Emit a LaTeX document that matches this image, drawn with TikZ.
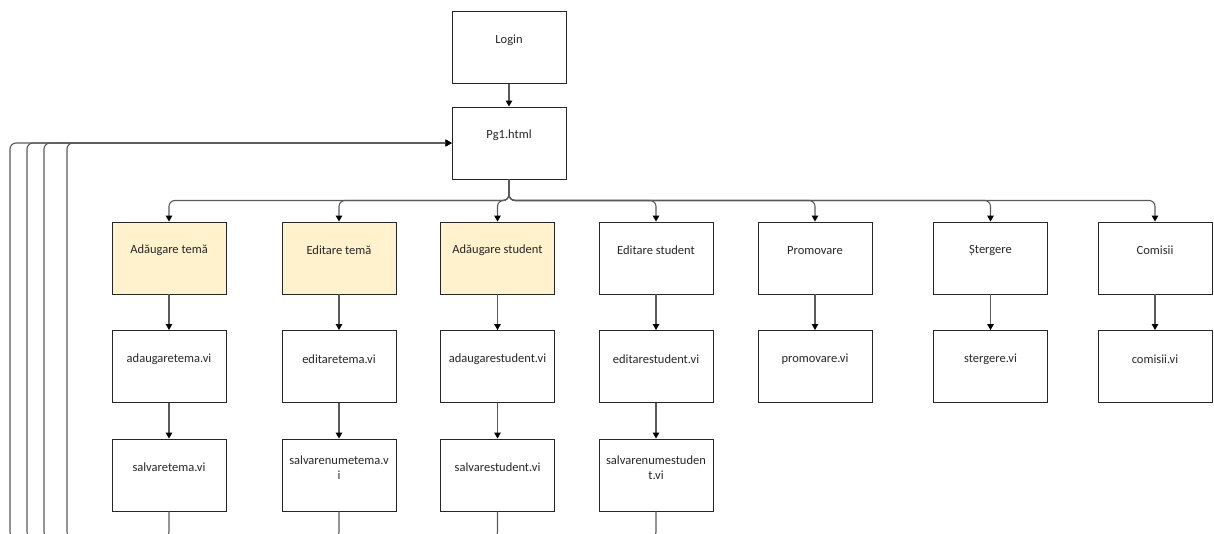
\documentclass[tikz,border=0pt]{standalone}
\usepackage{fontspec}
\setmainfont{Carlito}
\usetikzlibrary{arrows.meta}
\definecolor{notefill}{HTML}{FFF2CC}
\definecolor{linegray}{HTML}{5A5A5A}
\tikzstyle{page} = [rectangle, draw=black!85, line width=0.9pt, minimum width=114pt, minimum height=72pt, inner sep=0pt]
\tikzstyle{note} = [page, fill=notefill]
\tikzstyle{caption} = [align=center, inner sep=0pt, text=black!85, font=\fontsize{12.5}{14.5}\selectfont]
\tikzstyle{flow} = [draw=linegray, line width=1.1pt, -{Triangle[width=6.5pt,length=6pt,color=black]}]

\begin{document}
\begin{tikzpicture}[x=1pt, y=-1pt]
    \useasboundingbox (0,0) rectangle (1214,533);

    % start
    \node(login)[page] at (509,47.5) {};
    \node(logintxt)[caption] at ([yshift=-29pt]login.north) {Login};
    \node(pg1)[page] at (509,143) {};
    \node(pg1txt)[caption] at ([yshift=-29pt]pg1.north) {Pg1.html};
    \draw[flow] (login) -- (pg1);

    % first row
    \node(adt)[note] at (169,258) {};
    \node(adttxt)[caption] at ([yshift=-29pt]adt.north) {Adăugare temă};
    \node(edt)[note] at (339,258) {};
    \node(edttxt)[caption] at ([yshift=-29pt]edt.north) {Editare temă};
    \node(ads)[note] at (497.5,258) {};
    \node(adstxt)[caption] at ([yshift=-29pt]ads.north) {Adăugare student};
    \node(eds)[page] at (656,258) {};
    \node(edstxt)[caption] at ([yshift=-29pt]eds.north) {Editare student};
    \node(prom)[page] at (815,258) {};
    \node(promtxt)[caption] at ([yshift=-29pt]prom.north) {Promovare};
    \node(sterg)[page] at (990.5,258) {};
    \node(stergtxt)[caption] at ([yshift=-29pt]sterg.north) {Ștergere};
    \node(com)[page] at (1155,258) {};
    \node(comtxt)[caption] at ([yshift=-29pt]com.north) {Comisii};

    \foreach \child in {adt,edt,ads,eds,prom,sterg,com}
        \draw[flow, rounded corners=6pt] (pg1.south) -- ++(0,21) -| (\child.north);

    % .vi pages
    \node(adtvi)[page] at (169,366.5) {};
    \node(adtvitxt)[caption] at ([yshift=-29pt]adtvi.north) {adaugaretema.vi};
    \node(edtvi)[page] at (339,366.5) {};
    \node(edtvitxt)[caption] at ([yshift=-29pt]edtvi.north) {editaretema.vi};
    \node(adsvi)[page] at (497.5,366.5) {};
    \node(adsvitxt)[caption] at ([yshift=-29pt]adsvi.north) {adaugarestudent.vi};
    \node(edsvi)[page] at (656,366.5) {};
    \node(edsvitxt)[caption] at ([yshift=-29pt]edsvi.north) {editarestudent.vi};
    \node(promvi)[page] at (815,366.5) {};
    \node(promvitxt)[caption] at ([yshift=-29pt]promvi.north) {promovare.vi};
    \node(stergvi)[page] at (990.5,366.5) {};
    \node(stergvitxt)[caption] at ([yshift=-29pt]stergvi.north) {stergere.vi};
    \node(comvi)[page] at (1155,366.5) {};
    \node(comvitxt)[caption] at ([yshift=-29pt]comvi.north) {comisii.vi};

    \foreach \name in {adt,edt,ads,eds,prom,sterg,com}
        \draw[flow] (\name) -- (\name vi);

    % save pages
    \node(svt)[page] at (169,475) {};
    \node(svttxt)[caption] at ([yshift=-29pt]svt.north) {salvaretema.vi};
    \node(svnt)[page] at (339,475) {};
    \node(svnttxt)[caption] at ([yshift=-29pt]svnt.north) {salvarenumetema.v\\i};
    \node(svs)[page] at (497.5,475) {};
    \node(svstxt)[caption] at ([yshift=-29pt]svs.north) {salvarestudent.vi};
    \node(svns)[page] at (656,475) {};
    \node(svnstxt)[caption] at ([yshift=-29pt]svns.north) {salvarenumestuden\\t.vi};

    \draw[flow] (adtvi) -- (svt);
    \draw[flow] (edtvi) -- (svnt);
    \draw[flow] (adsvi) -- (svs);
    \draw[flow] (edsvi) -- (svns);

    % back to Pg1.html
    \coordinate(back1) at (67,538);
    \coordinate(back2) at (44,538);
    \coordinate(back3) at (27,538);
    \coordinate(back4) at (10,538);
    \begin{scope}
        \clip (0,0) rectangle (1214,533);
        \draw[flow, rounded corners=6pt] (svt.south) |- (back1) |- (pg1.west);
        \draw[flow, rounded corners=6pt] (svnt.south) |- (back2) |- (pg1.west);
        \draw[flow, rounded corners=6pt] (svs.south) |- (back3) |- (pg1.west);
        \draw[flow, rounded corners=6pt] (svns.south) |- (back4) |- (pg1.west);
    \end{scope}

\end{tikzpicture}
\end{document}
